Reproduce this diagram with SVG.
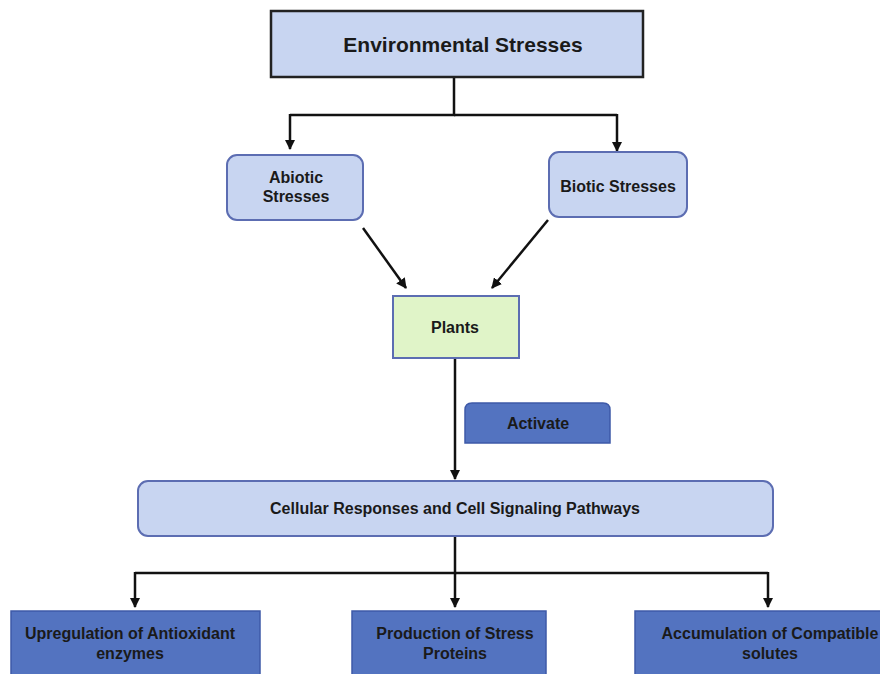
<svg xmlns="http://www.w3.org/2000/svg" width="880" height="674" viewBox="0 0 880 674">
  <defs>
    <marker id="arrow" viewBox="0 0 10 10" refX="9" refY="5" markerWidth="4.2" markerHeight="4.2" orient="auto" markerUnits="strokeWidth">
      <path d="M0,0 L10,5 L0,10 z" fill="#111"/>
    </marker>
    <style>
      .light { fill: #c8d5f1; stroke: #5c6db2; stroke-width: 2; }
      .top { fill: #c8d5f1; stroke: #222; stroke-width: 2.5; }
      .green { fill: #e0f4c8; stroke: #5c6db2; stroke-width: 2; }
      .dark { fill: #5373c0; stroke: #3e5aa8; stroke-width: 1.5; }
      .lbl { font-family: "Liberation Sans", Arial, sans-serif; font-weight: bold; fill: #1a1a1a; text-anchor: middle; font-size: 16px; }
      .wire { fill: none; stroke: #111; stroke-width: 2.5; }
      .arr { fill: none; stroke: #111; stroke-width: 2.5; marker-end: url(#arrow); }
    </style>
  </defs>

  <rect width="880" height="674" fill="#ffffff"/>

  <!-- connectors -->
  <g id="connectors">
    <path class="wire" d="M454,77 V115 H290"/>
    <path class="wire" d="M454,115 H617"/>
    <path class="arr" d="M290,114 V149"/>
    <path class="arr" d="M617,114 V151"/>
    <path class="arr" d="M363,228 L406,288" stroke-width="3"/>
    <path class="arr" d="M548,220 L492,288" stroke-width="3"/>
    <path class="arr" d="M455,358 V479"/>
    <path class="wire" d="M455,536 V573 H135"/>
    <path class="wire" d="M455,573 H768"/>
    <path class="arr" d="M135,572 V607"/>
    <path class="arr" d="M455,572 V607"/>
    <path class="arr" d="M768,572 V607"/>
  </g>

  <g id="environmental">
    <rect class="top" x="271" y="11" width="372" height="66"/>
    <text class="lbl" x="463" y="51.5" style="font-size:21px">Environmental Stresses</text>
  </g>

  <g id="abiotic">
    <rect class="light" x="227" y="155" width="136" height="65" rx="10"/>
    <text class="lbl" x="296" y="182.5">Abiotic</text>
    <text class="lbl" x="296" y="201.5">Stresses</text>
  </g>

  <g id="biotic">
    <rect class="light" x="549" y="152" width="138" height="65" rx="10"/>
    <text class="lbl" x="618" y="191.5">Biotic Stresses</text>
  </g>

  <g id="plants">
    <rect class="green" x="393" y="296" width="126" height="62"/>
    <text class="lbl" x="455" y="332.5">Plants</text>
  </g>

  <g id="activate">
    <path class="dark" d="M465,443 V410 Q465,403 472,403 H603 Q610,403 610,410 V443 Z"/>
    <text class="lbl" x="538" y="428.5">Activate</text>
  </g>

  <g id="cellular">
    <rect class="light" x="138" y="481" width="635" height="55" rx="10"/>
    <text class="lbl" x="455" y="513.5">Cellular Responses and Cell Signaling Pathways</text>
  </g>

  <g id="antioxidant">
    <rect class="dark" x="11" y="611" width="249" height="70"/>
    <text class="lbl" x="130" y="638.5">Upregulation of Antioxidant</text>
    <text class="lbl" x="130" y="658.5">enzymes</text>
  </g>

  <g id="proteins">
    <rect class="dark" x="352" y="611" width="194" height="70"/>
    <text class="lbl" x="455" y="638.5">Production of Stress</text>
    <text class="lbl" x="455" y="658.5">Proteins</text>
  </g>

  <g id="solutes">
    <rect class="dark" x="635" y="611" width="260" height="70"/>
    <text class="lbl" x="770" y="638.5">Accumulation of Compatible</text>
    <text class="lbl" x="770" y="658.5">solutes</text>
  </g>
</svg>
